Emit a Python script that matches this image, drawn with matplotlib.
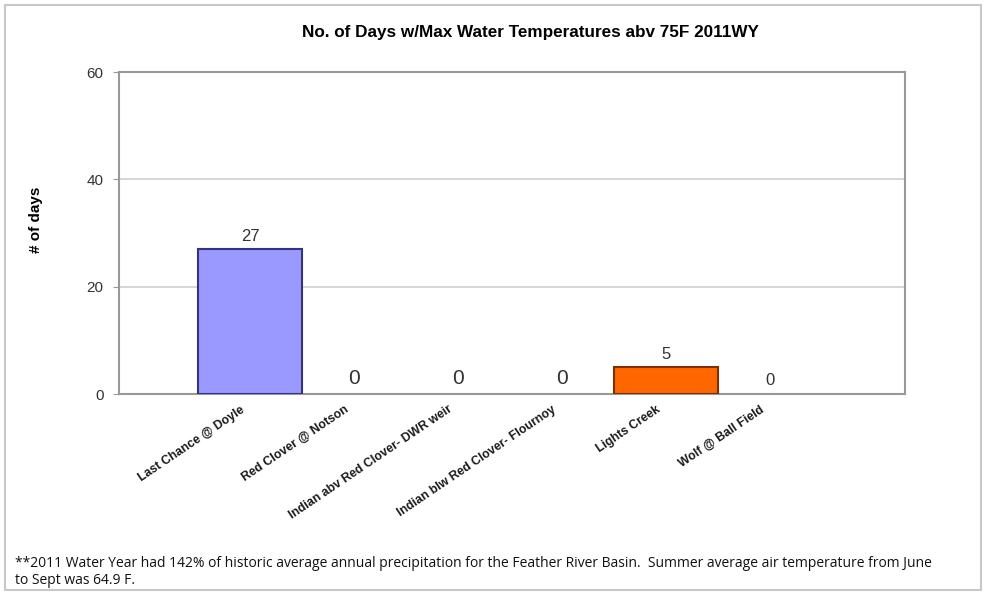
import matplotlib
matplotlib.use("Agg")
import matplotlib.pyplot as plt
from matplotlib.patches import Rectangle
import matplotlib.transforms as mtransforms

categories = ["Last Chance @ Doyle", "Red Clover @ Notson", "Indian abv Red Clover- DWR weir",
              "Indian blw Red Clover- Flournoy", "Lights Creek", "Wolf @ Ball Field"]
values = [27, 0, 0, 0, 5, 0]
bar_colors = ["#9999FF", "#9999FF", "#9999FF", "#9999FF", "#FF6600", "#9999FF"]
edge_colors = ["#333380", "#333380", "#333380", "#333380", "#7A3000", "#333380"]
label_sizes = [12, 15, 15, 15, 12, 12]
yticks = [0, 20, 40, 60]

title = "No. of Days w/Max Water Temperatures abv 75F 2011WY"
ylabel = "# of days"
footnote = ("**2011 Water Year had 142% of historic average annual precipitation for the Feather River Basin.  "
            "Summer average air temperature from June\nto Sept was 64.9 F.")

plt.rcParams['font.family'] = ['Liberation Sans', 'DejaVu Sans']

fig = plt.figure(figsize=(9.85, 5.93), dpi=100)
fig.patch.set_facecolor("white")
fig.add_artist(Rectangle((5/985, 3/593), 976/985, 585/593, transform=fig.transFigure,
                         fill=False, edgecolor="#C8C8C8", linewidth=1.5))

ax = fig.add_axes([119/985, 1-394/593, (905-119)/985, (394-72)/593])
x = list(range(len(categories)))
lws = [1.5 if v > 0 else 0 for v in values]
ax.bar(x, values, width=1.0, color=bar_colors, edgecolor=edge_colors, linewidth=lws, zorder=3)
ax.set_xlim(-1.26, 6.30)
ax.set_ylim(0, 60)
ax.set_yticks(yticks)
ax.set_yticklabels([str(t) for t in yticks], fontsize=11, color="#333333")
ax.yaxis.grid(True, color="#CFCFCF", linewidth=1.2, zorder=0)
for s in ["top", "right", "left", "bottom"]:
    ax.spines[s].set_color("#999999")
    ax.spines[s].set_linewidth(1.5)
ax.tick_params(axis="y", length=4, color="#999999", pad=7)
ax.tick_params(axis="x", length=0, pad=4)

ax.set_xticks(x)
ax.set_xticklabels(categories, rotation=34, ha="right", rotation_mode="anchor",
                   fontsize=8.8, fontweight="bold", color="#1a1a1a")
offset = mtransforms.ScaledTranslation(-10/100, -4/100, fig.dpi_scale_trans)
for lab in ax.get_xticklabels():
    lab.set_transform(lab.get_transform() + offset)

for xi, v, fs in zip(x, values, label_sizes):
    ax.annotate(str(v), (xi, v), xytext=(0, 4), textcoords="offset points",
                ha="center", va="bottom", fontsize=fs, color="#333333")

fig.text(530/985, 1-32/593, title, ha="center", va="center", fontsize=12.3, fontweight="bold")
fig.text(36/985, 1-220/593, ylabel, ha="center", va="center", rotation=90,
         fontsize=11, fontweight="bold")
fig.text(15/985, 1-572/593, footnote, ha="left", va="center", fontsize=10,
         family=["Open Sans", "DejaVu Sans"], color="#111111", linespacing=1.2)

fig.savefig("out.png", dpi=100)
